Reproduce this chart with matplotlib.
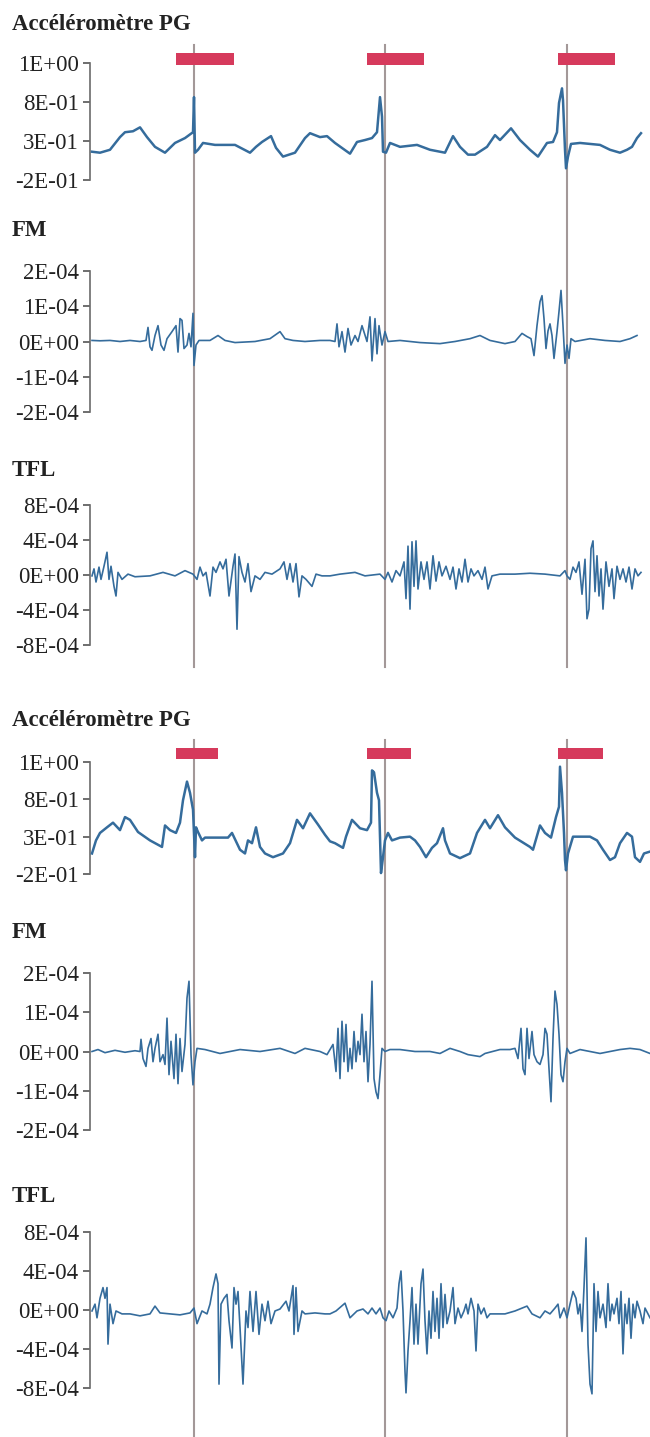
import numpy as np
import matplotlib
matplotlib.use("Agg")
import matplotlib.pyplot as plt
from matplotlib.lines import Line2D
from matplotlib.transforms import blended_transform_factory

plt.rcParams["font.family"] = ["Liberation Serif", "DejaVu Serif"]

# ---- data (x in samples, y in signal units; FM / TFL stored in units of 1E-04) ----
EVENTS = [104, 295, 477]

BARS_1 = [(86, 144), (277, 334), (468, 525)]
BARS_2 = [(86, 128), (277, 321), (468, 513)]

ACC_TICKS = ["-2E-01", "3E-01", "8E-01", "1E+00"]
FM_TICKS = ["-2E-04", "-1E-04", "0E+00", "1E-04", "2E-04"]
TFL_TICKS = ["-8E-04", "-4E-04", "0E+00", "4E-04", "8E-04"]

acc_1 = [(2, 0.09), (10, 0.08), (20, 0.11), (30, 0.24), (35, 0.29), (43, 0.30), (50, 0.34),
         (57, 0.24), (65, 0.14), (75, 0.08), (85, 0.18), (95, 0.23), (103, 0.29), (104, 0.65),
         (105, 0.08), (108, 0.11), (113, 0.18), (125, 0.16), (145, 0.16), (160, 0.08),
         (166, 0.14), (172, 0.19), (181, 0.25), (186, 0.13), (193, 0.04), (205, 0.08),
         (215, 0.23), (220, 0.28), (230, 0.24), (237, 0.25), (245, 0.18), (260, 0.07),
         (267, 0.19), (275, 0.21), (282, 0.23), (287, 0.29), (290, 0.65), (292, 0.45),
         (293, 0.09), (296, 0.08), (300, 0.18), (310, 0.14), (327, 0.16), (340, 0.11),
         (355, 0.08), (363, 0.25), (370, 0.14), (378, 0.06), (385, 0.06), (397, 0.14),
         (405, 0.26), (410, 0.21), (421, 0.33), (430, 0.21), (440, 0.11), (448, 0.04),
         (457, 0.18), (463, 0.19), (467, 0.29), (469, 0.59), (472, 0.74), (473, 0.62),
         (475, 0.11), (476, -0.08), (478, 0.04), (481, 0.17), (490, 0.18), (510, 0.16),
         (520, 0.11), (530, 0.08), (537, 0.11), (542, 0.14), (547, 0.23), (551, 0.28)]

fm_1 = [(2, 0.03), (10, 0.02), (20, 0.03), (30, 0.0), (40, 0.03), (50, 0.0), (56, 0.03),
        (58, 0.4), (60, -0.15), (62, -0.25), (65, 0.17), (68, 0.45), (71, -0.1), (74, -0.25),
        (77, 0.08), (82, 0.28), (86, 0.45), (88, -0.3), (90, 0.65), (92, 0.6), (94, -0.2),
        (97, -0.1), (99, 0.23), (101, -0.15), (103, 0.8), (104, -0.68), (106, -0.1),
        (109, 0.03), (120, 0.03), (128, 0.17), (135, 0.03), (145, -0.03), (165, 0.0),
        (180, 0.08), (190, 0.28), (195, 0.08), (203, 0.03), (215, 0.0), (230, 0.03),
        (240, 0.03), (245, 0.0), (247, 0.5), (249, -0.15), (252, 0.28), (255, -0.3),
        (258, 0.37), (261, -0.1), (265, 0.17), (268, 0.0), (272, 0.45), (277, 0.0),
        (280, 0.7), (282, -0.55), (285, 0.65), (287, -0.35), (289, 0.45), (292, -0.1),
        (295, 0.28), (298, 0.0), (310, 0.03), (330, -0.03), (350, -0.06), (365, 0.0),
        (380, 0.08), (390, 0.17), (400, 0.03), (415, -0.06), (425, 0.0), (432, 0.23),
        (437, 0.14), (441, 0.08), (444, -0.4), (447, 0.45), (450, 1.13), (452, 1.3),
        (454, 0.65), (456, -0.2), (458, 0.3), (460, 0.5), (462, 0.17), (464, -0.48),
        (467, 0.28), (469, 0.85), (471, 1.45), (473, 0.45), (475, -0.62), (477, -0.1),
        (479, -0.48), (481, 0.08), (485, 0.0), (500, 0.08), (515, 0.03), (530, 0.0),
        (540, 0.08), (547, 0.17)]

tfl_1 = [(2, -0.1), (4, 0.7), (6, -0.8), (9, 0.9), (11, -0.5), (14, 1.0), (17, 2.6), (19, -0.5),
         (21, 1.0), (24, -1.3), (26, -2.4), (28, 0.3), (32, -0.5), (38, 0.1), (45, -0.2),
         (60, -0.1), (73, 0.3), (85, -0.1), (95, 0.5), (103, 0.1), (107, -0.5), (110, 0.9),
         (113, -0.1), (116, 0.3), (120, -2.4), (123, 0.9), (126, 0.3), (130, 1.5), (133, 0.7),
         (136, 1.8), (139, -2.4), (143, 1.0), (145, 2.4), (147, -6.2), (149, 2.1), (152, 0.3),
         (155, -0.8), (158, 1.3), (161, -1.9), (165, -0.1), (170, -0.5), (175, 0.3),
         (182, 0.1), (190, 0.7), (194, 1.5), (197, -0.5), (200, 1.3), (203, -0.8), (206, 1.3),
         (209, -2.5), (212, -0.1), (216, -0.5), (222, -1.3), (226, 0.1), (232, -0.1),
         (240, -0.1), (250, 0.1), (265, 0.3), (275, -0.1), (290, 0.1), (295, -0.5),
         (298, 0.3), (302, -0.8), (306, 0.5), (310, -0.1), (314, 1.5), (316, -2.7),
         (318, 3.3), (320, -3.9), (322, 3.8), (324, -1.3), (326, 3.9), (328, -1.6),
         (331, 1.5), (334, -0.5), (337, 1.5), (340, -1.6), (343, 2.2), (346, -0.7),
         (349, 1.5), (352, -0.1), (356, 1.0), (360, -0.5), (363, 0.9), (366, -1.6),
         (369, 0.7), (372, -0.8), (375, 1.8), (378, -0.8), (381, 0.7), (384, -0.1),
         (388, 0.5), (392, -0.5), (395, 0.9), (398, -1.6), (402, -0.1), (410, 0.1),
         (425, 0.1), (440, 0.2), (455, 0.1), (470, -0.1), (475, 0.5), (477, -0.1),
         (480, -0.5), (483, 0.9), (486, 0.3), (489, 1.5), (492, -2.2), (495, 1.8),
         (497, -5.0), (499, -3.9), (501, 3.0), (503, 3.9), (505, -1.9), (507, 2.2),
         (509, -2.4), (511, 0.7), (513, -3.9), (516, 1.5), (519, -1.3), (522, 0.7),
         (524, -2.7), (527, 1.0), (530, -0.5), (533, 0.7), (536, -0.8), (539, 0.9),
         (542, -1.6), (545, 0.7), (548, -0.1), (551, 0.3)]

acc_2 = [(2, 0.02), (6, 0.16), (10, 0.24), (17, 0.30), (23, 0.35), (30, 0.27), (35, 0.41),
         (40, 0.38), (48, 0.25), (60, 0.16), (72, 0.09), (75, 0.32), (80, 0.27), (86, 0.24),
         (90, 0.35), (93, 0.59), (97, 0.79), (100, 0.67), (103, 0.49), (105, -0.02),
         (106, 0.30), (108, 0.25), (112, 0.16), (115, 0.19), (125, 0.19), (138, 0.19),
         (142, 0.24), (150, 0.06), (155, 0.02), (158, 0.16), (162, 0.13), (166, 0.30),
         (170, 0.09), (175, 0.02), (183, -0.02), (193, 0.02), (200, 0.13), (207, 0.38),
         (213, 0.29), (220, 0.45), (228, 0.33), (235, 0.22), (240, 0.15), (245, 0.13),
         (253, 0.08), (256, 0.20), (262, 0.38), (270, 0.29), (277, 0.27), (281, 0.35),
         (282, 0.91), (284, 0.89), (287, 0.67), (289, 0.59), (291, -0.19), (293, -0.02),
         (295, 0.16), (298, 0.24), (302, 0.16), (310, 0.19), (320, 0.20), (325, 0.16),
         (330, 0.09), (336, -0.02), (342, 0.08), (347, 0.13), (353, 0.29), (355, 0.16),
         (360, 0.02), (370, -0.03), (380, 0.02), (387, 0.24), (395, 0.38), (400, 0.29),
         (408, 0.43), (415, 0.30), (425, 0.19), (440, 0.09), (443, 0.06), (450, 0.32),
         (455, 0.24), (461, 0.19), (466, 0.41), (469, 0.52), (470, 0.95), (472, 0.67),
         (474, 0.24), (475, -0.05), (476, -0.16), (478, 0.02), (483, 0.20), (490, 0.20),
         (500, 0.20), (507, 0.16), (513, 0.06), (520, -0.05), (525, -0.02), (530, 0.13),
         (537, 0.24), (542, 0.20), (545, -0.02), (550, -0.07), (554, 0.02), (560, 0.04)]

fm_2 = [(2, 0.0), (8, 0.05), (15, -0.03), (25, 0.03), (35, -0.02), (45, 0.02), (50, 0.0),
        (51, 0.31), (53, -0.18), (56, -0.38), (58, 0.08), (61, 0.33), (63, -0.26), (65, 0.08),
        (68, 0.44), (70, -0.26), (73, -0.08), (75, -0.33), (77, 0.85), (79, -0.59), (81, 0.26),
        (84, -0.69), (86, 0.44), (88, -0.82), (90, 0.33), (92, -0.51), (95, 0.18), (97, 1.36),
        (99, 1.79), (101, -0.08), (103, -0.85), (105, -0.26), (107, 0.08), (115, 0.05),
        (130, -0.05), (150, 0.05), (170, 0.0), (190, 0.08), (205, -0.05), (215, 0.08),
        (230, 0.0), (237, -0.08), (243, 0.18), (246, -0.51), (248, 0.59), (250, -0.69),
        (252, 0.77), (254, -0.26), (256, 0.69), (258, -0.51), (260, 0.08), (262, -0.44),
        (264, 0.51), (266, -0.26), (268, 0.26), (270, -0.08), (272, 0.95), (274, -0.26),
        (276, 0.51), (278, -0.77), (280, 0.18), (282, 1.79), (284, -0.69), (286, -1.03),
        (288, -1.2), (290, -0.59), (292, 0.08), (295, 0.0), (300, 0.05), (310, 0.05),
        (325, 0.0), (340, 0.0), (350, -0.05), (360, 0.08), (370, 0.0), (378, -0.08),
        (390, -0.13), (395, -0.05), (410, 0.05), (420, 0.05), (425, 0.08), (428, -0.18),
        (431, 0.59), (433, -0.44), (435, -0.59), (437, 0.59), (439, -0.18), (442, 0.51),
        (444, -0.08), (447, -0.26), (450, -0.33), (453, -0.08), (455, 0.59), (457, 0.44),
        (459, -0.44), (461, -1.28), (463, 0.33), (465, 1.54), (467, 1.2), (469, 0.44),
        (471, -0.59), (473, -0.77), (475, -0.26), (477, 0.08), (480, -0.05), (490, 0.05),
        (500, 0.0), (510, -0.05), (520, 0.0), (530, 0.05), (540, 0.08), (550, 0.05),
        (560, -0.05)]

tfl_2 = [(2, -0.1), (5, 0.6), (7, -0.8), (10, 1.2), (13, 2.3), (15, 1.2), (17, 2.3), (18, -3.5),
         (20, 0.6), (23, -1.4), (26, -0.1), (32, -0.4), (40, -0.4), (50, -0.6), (60, -0.4),
         (65, 0.4), (70, -0.3), (80, -0.4), (90, -0.5), (100, -0.3), (104, 0.2), (107, -1.4),
         (112, -0.1), (117, -0.4), (120, 0.6), (123, 2.3), (126, 3.7), (128, 2.7), (129, -7.6),
         (131, 0.6), (134, 1.2), (137, 1.6), (139, -1.1), (142, -3.9), (144, 2.3), (146, 0.6),
         (148, 1.9), (150, -1.8), (153, -7.6), (156, -0.1), (158, -1.8), (160, 1.9),
         (163, -2.2), (166, 1.9), (169, -2.5), (172, 0.6), (175, -1.1), (178, 0.9),
         (181, -1.4), (185, -0.1), (190, 0.1), (196, 0.9), (199, -0.1), (203, 2.5),
         (204, -2.5), (206, 2.3), (208, -2.2), (212, -0.1), (215, -0.4), (225, -0.3),
         (235, -0.4), (240, -0.4), (246, -0.1), (255, 0.7), (260, -0.8), (267, -0.1),
         (273, 0.1), (278, -0.4), (282, 0.2), (286, -0.4), (290, 0.2), (293, -0.8),
         (296, -1.1), (299, -0.1), (303, -0.8), (307, 0.2), (309, 2.7), (311, 4.0),
         (313, -0.1), (315, -6.3), (316, -8.5), (318, -4.2), (320, -1.1), (322, 2.3),
         (324, -3.5), (326, 0.6), (328, -3.5), (331, 2.7), (333, 4.2), (335, -1.1),
         (337, -4.5), (339, -0.1), (341, -2.9), (343, 1.9), (345, -2.2), (347, 1.2),
         (349, -2.9), (351, 2.7), (353, -1.8), (355, 1.6), (357, -1.4), (360, -0.1),
         (363, 2.3), (365, -1.4), (368, 0.2), (371, -0.8), (374, -0.1), (376, 0.6),
         (378, -0.4), (381, 1.2), (384, -0.1), (386, -4.2), (388, 0.6), (391, -0.4),
         (394, 0.2), (397, -0.8), (400, -0.4), (405, -0.4), (415, -0.4), (425, -0.1),
         (437, 0.4), (442, -0.4), (450, -0.8), (455, -0.1), (460, -0.4), (465, 0.2),
         (468, 0.6), (470, -0.8), (474, 0.2), (477, -0.8), (480, 0.6), (483, 1.9),
         (486, 1.2), (488, -0.4), (490, 0.6), (492, -2.2), (494, 2.3), (496, 7.4),
         (498, -3.5), (500, -7.6), (502, -8.6), (504, 2.7), (506, -2.2), (508, 1.9),
         (510, -0.8), (513, 0.6), (516, -1.8), (518, 2.7), (520, -1.1), (522, 0.6),
         (524, -0.4), (527, 1.2), (529, -1.4), (531, 1.9), (533, -4.5), (535, 0.6),
         (537, -1.4), (539, 1.2), (541, -2.9), (543, 0.6), (545, -0.8), (547, 0.9),
         (550, -0.1), (553, -1.4), (555, 0.2), (558, -0.4), (560, -0.8)]

# ---- style ----
W, H = 650, 1437
LINE_C = "#356c9c"
EVENT_C = "#a39898"
BAR_C = "#d63a5c"
AX_LEFT, AX_RIGHT = 90, 650


def px_rect(top, bottom):
    return [AX_LEFT / W, 1 - bottom / H, (AX_RIGHT - AX_LEFT) / W, (bottom - top) / H]


def make_panel(fig, top, bottom, series, scale, ylim, ticklabels, lw):
    ax = fig.add_axes(px_rect(top, bottom))
    ax.patch.set_visible(False)
    arr = np.array(series, dtype=float)
    ax.plot(arr[:, 0], arr[:, 1] * scale, color=LINE_C, lw=lw, clip_on=False, zorder=3)
    ax.set_xlim(0, 560)
    ax.set_ylim(*ylim)
    ax.set_yticks(np.linspace(ylim[0], ylim[1], len(ticklabels)))
    ax.set_yticklabels(ticklabels)
    ax.set_xticks([])
    for s in ["top", "right", "bottom"]:
        ax.spines[s].set_visible(False)
    ax.spines["left"].set_color("#6b6b6b")
    ax.spines["left"].set_linewidth(1.2)
    ax.tick_params(axis="y", length=5, width=1.2, color="#555555", pad=3,
                   labelsize=16.5, labelcolor="#222222")
    return ax


def title(fig, text, y):
    fig.text(12 / W, 1 - y / H, text, fontsize=16.5, fontweight="bold",
             ha="left", va="center", color="#222222")


fig = plt.figure(figsize=(W / 100, H / 100), dpi=100)

groups = [
    dict(acc=acc_1, fm=fm_1, tfl=tfl_1, bars=BARS_1, bar_y=(0.98, 1.10),
         pos=[(63, 180), (271, 412), (505, 645)], titles=[25, 230, 470], ev=(45, 667)),
    dict(acc=acc_2, fm=fm_2, tfl=tfl_2, bars=BARS_2, bar_y=(1.03, 1.15),
         pos=[(762, 874), (973, 1130), (1232, 1388)], titles=[720, 933, 1196], ev=(740, 1437)),
]

for g in groups:
    (a_t, a_b), (f_t, f_b), (t_t, t_b) = g["pos"]
    ax_acc = make_panel(fig, a_t, a_b, g["acc"], 1.0, (-0.2, 1.0), ACC_TICKS, 1.8)
    make_panel(fig, f_t, f_b, g["fm"], 1e-4, (-2e-4, 2e-4), FM_TICKS, 1.2)
    make_panel(fig, t_t, t_b, g["tfl"], 1e-4, (-8e-4, 8e-4), TFL_TICKS, 1.2)

    title(fig, "Accéléromètre PG", g["titles"][0])
    title(fig, "FM", g["titles"][1])
    title(fig, "TFL", g["titles"][2])

    y0, y1 = g["bar_y"]
    ax_acc.broken_barh([(s, e - s) for s, e in g["bars"]], (y0, y1 - y0),
                       facecolors=BAR_C, clip_on=False, zorder=4)

    trans = blended_transform_factory(ax_acc.transData, fig.transFigure)
    for ev in EVENTS:
        fig.add_artist(Line2D([ev, ev], [1 - g["ev"][0] / H, 1 - g["ev"][1] / H],
                              transform=trans, color=EVENT_C, lw=1.5, zorder=-1))

fig.savefig("out.png", dpi=100)
